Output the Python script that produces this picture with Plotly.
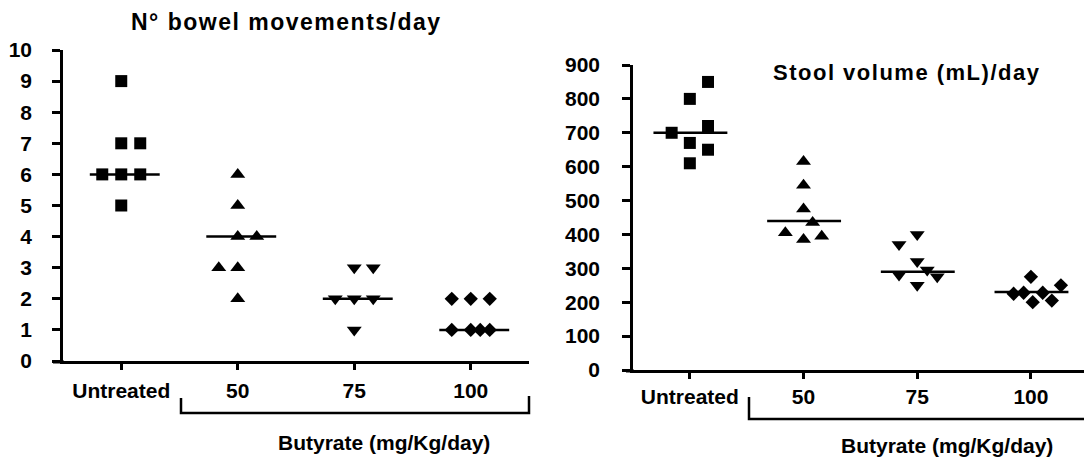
import plotly.graph_objects as go

W, H = 1084, 458

groups = ["Untreated", "50", "75", "100"]
symbols = ["square", "triangle-up", "triangle-down", "diamond"]
msizes = [12, 13, 13, 11]

# Left panel: N° bowel movements/day
bm_untreated = [9, 7, 7, 6, 6, 6, 5]
bm_50 = [6, 5, 4, 4, 3, 3, 2]
bm_75 = [3, 3, 2, 2, 2, 1]
bm_100 = [2, 2, 2, 1, 1, 1, 1]
bm_median = [6, 4, 2, 1]
# column (swarm slot) of each point within its group
bm_slot_untreated = [0, 0, 1, -1, 0, 1, 0]
bm_slot_50 = [0, 0, 0, 1, -1, 0, 0]
bm_slot_75 = [0, 1, -1, 0, 1, 0]
bm_slot_100 = [-1, 0, 1, -1, 0, 0.5, 1]

# Right panel: Stool volume (mL)/day
sv_untreated = [850, 800, 700, 720, 670, 650, 610]
sv_50 = [615, 545, 475, 435, 405, 385, 395]
sv_75 = [400, 370, 320, 295, 280, 275, 250]
sv_100 = [275, 250, 225, 228, 228, 200, 205]
sv_median = [700, 440, 290, 230]
sv_slot_untreated = [1, 0, -1, 1, 0, 1, 0]
sv_slot_50 = [0, 0, 0, 0.5, -1, 0, 1]
sv_slot_75 = [0, -1, 0, 0.55, -1, 1.1, 0]
sv_slot_100 = [0, 1.65, -0.95, -0.4, 0.65, 0.1, 1.15]

INK = "#000000"
FONT = dict(family="Liberation Sans, Arial, sans-serif", size=21, color=INK, weight="bold")


def px(x):
    return x / W


def py(y):
    return 1 - y / H


fig = go.Figure()


def add_panel(values, slots, medians, slot_w, xa, ya, med_l, med_r):
    for gi, (vals, sl) in enumerate(zip(values, slots)):
        fig.add_trace(go.Scatter(
            x=[gi + 1 + s * slot_w for s in sl], y=vals, mode="markers",
            marker=dict(symbol=symbols[gi], size=msizes[gi], color=INK, line=dict(width=0)),
            xaxis=xa, yaxis=ya, showlegend=False, hoverinfo="skip"))
    mx, my = [], []
    for gi, m in enumerate(medians):
        mx += [gi + 1 - med_l, gi + 1 + med_r, None]
        my += [m, m, None]
    fig.add_trace(go.Scatter(x=mx, y=my, mode="lines", line=dict(color=INK, width=2.5),
                             xaxis=xa, yaxis=ya, showlegend=False, hoverinfo="skip"))


add_panel([bm_untreated, bm_50, bm_75, bm_100],
          [bm_slot_untreated, bm_slot_50, bm_slot_75, bm_slot_100],
          bm_median, 0.163, "x", "y", 0.27, 0.33)
add_panel([sv_untreated, sv_50, sv_75, sv_100],
          [sv_slot_untreated, sv_slot_50, sv_slot_75, sv_slot_100],
          sv_median, 0.16, "x2", "y2", 0.32, 0.33)

xcommon = dict(showgrid=False, zeroline=False, showline=True, linecolor=INK, linewidth=3,
               ticks="outside", ticklen=6, tickwidth=2.5, tickcolor=INK,
               tickvals=[1, 2, 3, 4], ticktext=groups, tickfont=FONT,
               ticklabelstandoff=3, fixedrange=True, automargin=False)
ycommon = dict(showgrid=False, zeroline=False, showline=True, linecolor=INK, linewidth=2.5,
               ticks="outside", ticklen=8, tickwidth=2.5, tickcolor=INK,
               tickfont=FONT, fixedrange=True, automargin=False)

fig.update_layout(
    width=W, height=H, margin=dict(l=0, r=0, t=0, b=0, autoexpand=False),
    paper_bgcolor="white", plot_bgcolor="white",
    xaxis=dict(xcommon, domain=[px(63), px(529)], range=[0.5, 4.5], anchor="y"),
    yaxis=dict(ycommon, domain=[py(361), py(50)], range=[0, 10], dtick=1, anchor="x",
               ticklabelstandoff=16),
    xaxis2=dict(xcommon, domain=[px(633), 1.0], range=[0.5, 4.467], anchor="y2",
                ticklabelstandoff=0),
    yaxis2=dict(ycommon, domain=[py(370), py(65)], range=[0, 900], dtick=100, anchor="x2",
                ticklabelstandoff=18),
)

# x-axis line extending left of the y axis, and brackets under the dose labels
shapes = [
    dict(type="line", xref="paper", yref="paper", x0=px(53), x1=px(64), y0=py(362), y1=py(362),
         line=dict(color=INK, width=3)),
    dict(type="line", xref="paper", yref="paper", x0=px(626), x1=px(634), y0=py(371), y1=py(371),
         line=dict(color=INK, width=3)),
    dict(type="path", xref="paper", yref="paper",
         path=f"M {px(181)},{py(398)} L {px(181)},{py(413)} L {px(529)},{py(413)} L {px(529)},{py(396)}",
         line=dict(color=INK, width=2.5)),
    dict(type="path", xref="paper", yref="paper",
         path=f"M {px(749)},{py(397)} L {px(749)},{py(419)} L {px(1084)},{py(419)}",
         line=dict(color=INK, width=2.5)),
]
fig.update_layout(shapes=shapes)

TFONT = dict(family="Liberation Sans, Arial, sans-serif", size=23, color=INK, weight="bold")
ann = [
    dict(text='<span style="letter-spacing:1.5px">N° bowel movements/day</span>',
         x=px(286), y=py(22), xref="paper", yref="paper", showarrow=False,
         xanchor="center", yanchor="middle", font=TFONT),
    dict(text='<span style="letter-spacing:1.5px">Stool volume (mL)/day</span>',
         x=px(906), y=py(72), xref="paper", yref="paper", showarrow=False,
         xanchor="center", yanchor="middle", font=dict(TFONT, size=22)),
    dict(text="Butyrate (mg/Kg/day)", x=px(384), y=py(442), xref="paper", yref="paper",
         showarrow=False, xanchor="center", yanchor="middle", font=FONT),
    dict(text="Butyrate (mg/Kg/day)", x=px(947), y=py(445), xref="paper", yref="paper",
         showarrow=False, xanchor="center", yanchor="middle", font=FONT),
]
fig.update_layout(annotations=ann)

fig.write_html("out.html", config={"displayModeBar": False},
               post_script="document.body.style.margin='0';document.body.style.overflow='hidden';")
